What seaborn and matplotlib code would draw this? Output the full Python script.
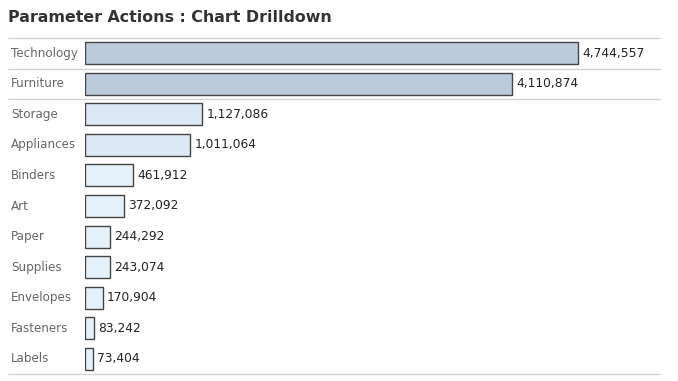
import seaborn as sns
import pandas as pd
import matplotlib.pyplot as plt

categories = ["Technology", "Furniture", "Storage", "Appliances", "Binders", "Art",
              "Paper", "Supplies", "Envelopes", "Fasteners", "Labels"]
sales = [4744557, 4110874, 1127086, 1011064, 461912, 372092,
         244292, 243074, 170904, 83242, 73404]
colors = ["#bccbdb", "#bccbdb", "#dce9f5", "#dce9f5", "#e5f1fa", "#e5f1fa",
          "#e5f1fa", "#e5f1fa", "#e5f1fa", "#e5f1fa", "#e5f1fa"]

df = pd.DataFrame({"category": categories, "sales": sales})

sns.set_style("white")
fig = plt.figure(figsize=(6.78, 3.81), dpi=100)
ax = fig.add_axes([85 / 678, 7 / 381, 575 / 678, 336 / 381])

sns.barplot(data=df, y="category", x="sales", hue="category",
            palette=dict(zip(categories, colors)), legend=False, saturation=1,
            orient="h", width=0.72, edgecolor="#444444", linewidth=1, ax=ax)

ax.set_xlim(0, 575 / 493 * sales[0])
ax.set_ylim(len(categories) - 0.5, -0.5)
for c in ax.containers:
    ax.bar_label(c, labels=[f"{v:,.0f}" for v in c.datavalues], padding=3,
                 fontsize=8.8, color="#222222")

ax.set_xticks([])
ax.set_yticks([])
ax.set_xlabel("")
ax.set_ylabel("")
for s in ax.spines.values():
    s.set_visible(False)

for i, name in enumerate(categories):
    ax.text(-74 / 575, i, name, transform=ax.get_yaxis_transform(),
            ha="left", va="center", fontsize=8.6, color="#666666")

# separator lines
for y in [-0.5, 0.5, 1.5, len(categories) - 0.5]:
    ax.axhline(y, xmin=-77 / 575, xmax=1.0, color="#d4d4d4", lw=1, clip_on=False)

fig.text(8 / 678, 1 - 18 / 381, "Parameter Actions : Chart Drilldown",
         fontsize=11.4, fontweight="bold", color="#333333", va="center", ha="left")

fig.savefig("out.png", dpi=100)
